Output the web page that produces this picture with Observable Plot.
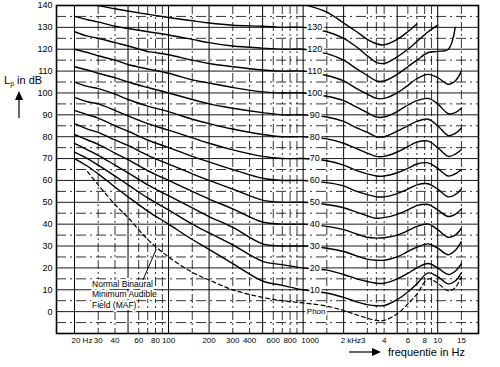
<!DOCTYPE html>
<html><head><meta charset="utf-8">
<script src="https://cdn.jsdelivr.net/npm/d3@7"></script>
<script src="https://cdn.jsdelivr.net/npm/@observablehq/plot@0.6"></script>
<style>body{margin:0;background:#fff} #chart{width:500px;height:367px}</style>
</head><body><div id="chart"></div>
<script>
// frequency grid (Hz)
const freqs = [20, 25, 30, 40, 50, 70, 100, 150, 200, 300, 500, 700, 1000, 1500, 2000, 2500, 3000, 3500, 4000, 5000, 6000, 7000, 8500, 10000, 12000, 13500, 15000];
// sound pressure level (dB) per equal-loudness contour
const mafL = [null,64,58,49,43,33,25,18,14.5,10,6.5,5,4,2.5,0.5,-1.5,-3,-4,-4,-1,3.5,8,15,13,9.5,11,16];
const p10  = [70,66.5,63,57,52.5,46,40,33,28.5,22,14,12,10,8.5,6.5,4.5,3.2,2.7,2.8,5.5,9,12.7,17.7,16,12.7,14,17.7];
const p20  = [73,70,67,62,58,52,46.5,40,36,30.5,23,21.5,20,19,17,15,13.8,13,13,15,17.5,20,22,20,17,18.5,22];
const p30  = [77,74,71.5,67,63.5,58,53,47.5,43.5,38.5,31,30,30,29,27.5,25.5,24,23.5,23.5,25,27.5,29.5,31,29,26,28,32];
const p40  = [81,78.5,76.5,72.5,69.5,64.5,60,55,51.5,47,41,40,40,39,37.5,35.5,34,33.6,33.8,35,37,39,40,37.5,34,35,38];
const p50  = [86,83.5,82,78.5,76,71.5,67.5,63,60,56,51,50,50,49,47.5,45.5,43.8,42.7,43,44.5,46.5,48.5,49,46.5,43.5,44.5,47];
const p60  = [92,90,88.5,85,82.5,78.5,75,71,68.5,65,61,60,60,59,57.5,55,53.5,52.5,52.5,54,56,58,58.5,56,52.5,53.5,56];
const p70  = [98,96,95,92,89.5,86,83,79.5,77,74,71,70,70,69,67,64.5,63,62,62,63.5,65.5,67.5,68,65.5,62,63,65];
const p80  = [105,103,102,99.5,97,94,91.5,88,86,83.5,81,80,80,79,77,74.5,72.5,71,71,73,75.5,77.5,78,75,71,72,74];
const p90  = [112,110.5,109,107,105,102.5,100,97,95,93,91,90,90,89,87,84,82,80,80,82.5,85,87,88,85,80.5,81.5,84];
const p100 = [120,118.5,117,115,113,111,109,106,104.5,102.5,100.5,100,100,98.5,96.5,93.5,91,89,89,91.5,94.5,96.5,97.5,95,90.5,91,93];
const p110 = [128,126,125,123,121.5,119,117.5,115,113.5,112,110.5,110,110,108,105.5,102,99.5,97.5,97.5,100,103.5,106.5,108.5,107,104,105.5,110];
const p120 = [135,133.5,132.5,130.5,129.5,128,126.5,124.5,123,121.5,120.5,120,120,118,115,111,108,105.5,105.5,108.5,112,115,118.5,119,120,130,null];
const p130 = [null,141,140,138.5,137.5,136,134.5,133,132,131,130.5,130,130,128,125,121,117,114,113.5,116.5,120,123.5,128,131,null,null,null];
const p140 = [null,null,null,null,null,null,null,null,null,null,null,null,140.5,137,132,128,124.5,122.5,122,124.5,128,131.5,null,null,null,null,null];

const curveLabels = [130,120,110,100,90,80,70,60,50,40,30,20,10];
const yTicks = [0,10,20,30,40,50,60,70,80,90,100,110,120,130,140];
const xTickFreqs  = [20,30,40,60,80,100,200,300,400,600,800,1000,2000,3000,4000,6000,8000,10000,15000];
const xTickLabels = ["20 Hz","30","40","60","80","100","200","300","400","600","800","1000","2 kHz","3","4","6","8","10","15"];
const gridSolidF = [20,50,100,200,500,1000,2000,5000,10000];
const gridDashF = [30,40,60,70,80,90,150,300,400,600,700,800,900,1500,3000,3500,4000,6000,7000,8000,9000,15000];
const gridTens = [0,10,20,30,40,50,60,70,80,90,100,110,120,130];
const gridFives = [-5,5,15,25,35,45,55,65,75,85,95,105,115,125,135];
const mafNoteText = "Normal Binaural\nMinimum Audible\nField (MAF)";

const curves = [["MAF",mafL],["10",p10],["20",p20],["30",p30],["40",p40],["50",p50],["60",p60],["70",p70],["80",p80],["90",p90],["100",p100],["110",p110],["120",p120],["130",p130],["140",p140]];
const rows = curves.flatMap(([name, arr]) => arr.map((L, i) => L == null ? null : {curve: name, f: freqs[i], L}).filter(d => d));
const solidRows = rows.filter(d => d.curve !== "MAF");
const mafRows = rows.filter(d => d.curve === "MAF");
const xt = xTickFreqs.map((f, i) => ({f, label: xTickLabels[i]}));
const centered = xt.filter(d => ![20, 1000, 2000, 3000].includes(d.f));

const font = "Liberation Sans, Arial, sans-serif";
const lblOpts = {x: "f", frameAnchor: "bottom", dy: 9, text: "label", fontSize: 8, fill: "#000"};
const svg = Plot.plot({
  width: 500, height: 367,
  marginLeft: 56, marginRight: 22, marginTop: 5, marginBottom: 34,
  style: {fontFamily: font, background: "#fff", color: "#000"},
  x: {type: "log", domain: [14.7, 20100], axis: null},
  y: {domain: [-10, 140], axis: null},
  marks: [
    Plot.ruleY(gridFives, {stroke: "#000", strokeWidth: 0.8, strokeDasharray: "10,4,2,4"}),
    Plot.ruleY(gridTens, {stroke: "#000", strokeWidth: 0.9}),
    Plot.ruleX(gridDashF, {stroke: "#000", strokeWidth: 0.8, strokeDasharray: "9,3,2,3"}),
    Plot.ruleX(gridSolidF, {stroke: "#000", strokeWidth: 1}),
    Plot.line(solidRows, {x: "f", y: "L", z: "curve", curve: "catmull-rom", stroke: "#000", strokeWidth: 1.4, clip: true}),
    Plot.line(mafRows, {x: "f", y: "L", curve: "catmull-rom", stroke: "#000", strokeWidth: 1.2, strokeDasharray: "4,3", clip: true}),
    Plot.text(curveLabels, {x: 1220, y: d => d, text: d => String(d), fontSize: 9, fill: "#000", stroke: "#fff", strokeWidth: 4}),
    Plot.text(["Phon"], {x: 1250, y: 0, text: d => d, fontSize: 8, fill: "#000", stroke: "#fff", strokeWidth: 4}),
    Plot.link([0], {x1: 64, y1: 14, x2: 81, y2: 28.5, stroke: "#000", strokeWidth: 1}),
    Plot.text([mafNoteText], {x: 27, y: 14.5, text: d => d, textAnchor: "start", lineAnchor: "top", lineHeight: 1.2, fontSize: 8.5, fill: "#000", stroke: "#fff", strokeWidth: 4}),
    Plot.axisY({ticks: yTicks, tickSize: 0, tickPadding: 4, fontSize: 9, label: null}),
    Plot.text(centered, lblOpts),
    Plot.text(xt.filter(d => d.f === 1000), {...lblOpts, dx: 7}),
    Plot.text(xt.filter(d => d.f === 3000), {...lblOpts, dx: -4}),
    Plot.text(xt.filter(d => d.f === 20 || d.f === 2000), {...lblOpts, dx: -3, textAnchor: "start"}),
    Plot.frame({stroke: "#000", strokeWidth: 1.6})
  ]
});
document.getElementById("chart").appendChild(svg);

const s = d3.select(svg);
// y axis title
const t = s.append("text").attr("x", 4).attr("y", 84).attr("text-anchor", "start").attr("font-family", font).attr("font-size", 11).attr("fill", "#000");
t.append("tspan").text("L");
t.append("tspan").attr("font-size", 7).attr("dy", 2).text("p");
t.append("tspan").attr("dy", -2).text(" in dB");
s.append("line").attr("x1", 19).attr("y1", 118).attr("x2", 19).attr("y2", 99).attr("stroke", "#000").attr("stroke-width", 1.2);
s.append("path").attr("d", "M15,100 L19,91 L23,100 Z").attr("fill", "#000");
// x axis title
s.append("line").attr("x1", 349).attr("y1", 352).attr("x2", 373).attr("y2", 352).attr("stroke", "#000").attr("stroke-width", 1.2);
s.append("path").attr("d", "M372,348 L381,352 L372,356 Z").attr("fill", "#000");
s.append("text").attr("x", 388).attr("y", 356).attr("text-anchor", "start").attr("font-family", font).attr("font-size", 11).attr("fill", "#000").text("frequentie in Hz");
</script></body></html>
